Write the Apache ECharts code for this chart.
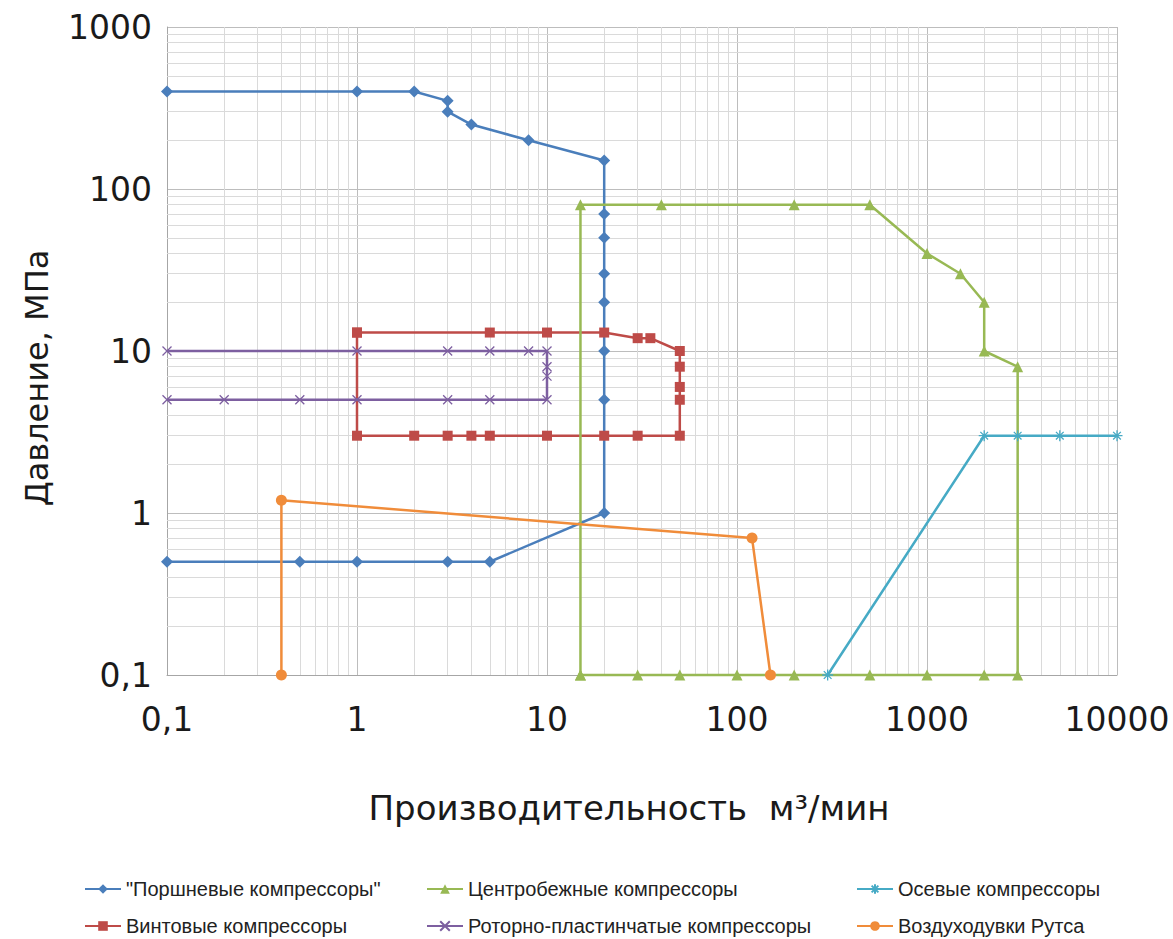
<!DOCTYPE html>
<html>
<head>
<meta charset="utf-8">
<script src="https://cdn.jsdelivr.net/npm/echarts@6/dist/echarts.min.js"></script>
<style>
  html, body { margin: 0; padding: 0; background: #fff; }
  #main { width: 1173px; height: 939px; }
</style>
</head>
<body>
<div id="main"></div>
<script>
// data: [производительность м3/мин, давление МПа]
let pistonData = [[0.1, 400], [1, 400], [2, 400], [3, 350], [3, 300], [4, 250], [8, 200], [20, 150],
  [20, 70], [20, 50], [20, 30], [20, 20], [20, 10], [20, 5], [20, 1],
  [5, 0.5], [3, 0.5], [1, 0.5], [0.5, 0.5], [0.1, 0.5]];
let screwData = [[1, 13], [5, 13], [10, 13], [20, 13], [30, 12], [35, 12], [50, 10], [50, 8], [50, 6], [50, 5],
  [50, 3], [30, 3], [20, 3], [10, 3], [5, 3], [4, 3], [3, 3], [2, 3], [1, 3], [1, 13]];
let centrifugalData = [[15, 0.1], [15, 80], [40, 80], [200, 80], [500, 80], [1000, 40], [1500, 30], [2000, 20],
  [2000, 10], [3000, 8], [3000, 0.1], [2000, 0.1], [1000, 0.1], [500, 0.1], [200, 0.1], [100, 0.1],
  [50, 0.1], [30, 0.1], [15, 0.1]];
let vaneData = [[0.1, 10], [1, 10], [3, 10], [5, 10], [8, 10], [10, 10], [10, 8], [10, 7], [10, 5],
  [5, 5], [3, 5], [1, 5], [0.5, 5], [0.2, 5], [0.1, 5]];
let axialData = [[300, 0.1], [2000, 3], [3000, 3], [5000, 3], [10000, 3]];
let rootsData = [[0.4, 0.1], [0.4, 1.2], [120, 0.7], [150, 0.1]];

let seriesNames = ['"Поршневые компрессоры"', 'Винтовые компрессоры', 'Центробежные компрессоры',
  'Роторно-пластинчатые компрессоры', 'Осевые компрессоры', 'Воздуходувки Рутса'];

// minor grid (2..9 in each decade)
let minorX = [], minorY = [];
[0.1, 1, 10, 100, 1000].forEach(function (d) {
  for (let k = 2; k <= 9; k++) minorX.push(+(k * d).toPrecision(3));
});
[0.1, 1, 10, 100].forEach(function (d) {
  for (let k = 2; k <= 9; k++) minorY.push(+(k * d).toPrecision(3));
});

let chartDom = document.getElementById('main');
let myChart = echarts.init(chartDom, null, { renderer: 'svg' });

function fmt(v) {
  return String(+v.toPrecision(6)).replace('.', ',');
}

let AXIS_FONT = 'DejaVu Sans';
let LEGEND_FONT = '"Liberation Sans", sans-serif';

function lineSeries(name, data, color, symbol, size, hollow) {
  return {
    name: name,
    type: 'line',
    data: data,
    symbol: symbol,
    symbolSize: size,
    showSymbol: true,
    lineStyle: { color: color, width: 2.5 },
    itemStyle: hollow
      ? { color: 'rgba(0,0,0,0)', borderColor: color, borderWidth: 1.3 }
      : { color: color },
    emphasis: { disabled: true },
    clip: false,
    z: 3
  };
}

// one legend per entry, laid out in 3 columns x 2 rows
let legendLeft = [84, 426, 856];
let legendTop = [879, 916];
function legendItem(i) {
  return {
    left: legendLeft[Math.floor(i / 2)],
    top: legendTop[i % 2],
    padding: 0,
    data: [seriesNames[i]],
    itemWidth: 36,
    itemHeight: 12,
    textStyle: { fontFamily: LEGEND_FONT, fontSize: 20, color: '#222', lineHeight: 20 },
    selectedMode: false
  };
}
let legendOrder = [0, 1, 2, 3, 4, 5];

let option = {
  animation: false,
  grid: { left: 167, right: 56, top: 27, bottom: 264 },
  xAxis: {
    type: 'log',
    logBase: 10,
    min: 0.1,
    max: 10000,
    splitNumber: 5,
    axisLine: { show: true, lineStyle: { color: '#a6a6a6', width: 1 } },
    axisTick: { show: false },
    axisLabel: { formatter: fmt, fontFamily: AXIS_FONT, fontSize: 33, color: '#1a1a1a', margin: 28 },
    splitLine: { show: true, lineStyle: { color: '#bdbdbd', width: 1 } }
  },
  yAxis: {
    type: 'log',
    logBase: 10,
    min: 0.1,
    max: 1000,
    splitNumber: 4,
    axisLine: { show: true, lineStyle: { color: '#a6a6a6', width: 1 } },
    axisTick: { show: false },
    axisLabel: { formatter: fmt, fontFamily: AXIS_FONT, fontSize: 33, color: '#1a1a1a', margin: 15 },
    splitLine: { show: true, lineStyle: { color: '#bdbdbd', width: 1 } }
  },
  legend: legendOrder.map(legendItem),
  graphic: [
    {
      type: 'text',
      x: 37, y: 378,
      rotation: Math.PI / 2,
      style: {
        text: 'Давление, МПа',
        font: '32px "DejaVu Sans"',
        fill: '#1a1a1a',
        align: 'center',
        verticalAlign: 'middle'
      }
    },
    {
      type: 'text',
      x: 629, y: 808,
      style: {
        text: 'Производительность  м³/мин',
        font: '34px "DejaVu Sans"',
        fill: '#1a1a1a',
        align: 'center',
        verticalAlign: 'middle'
      }
    }
  ],
  series: [
    {
      // minor grid lines
      type: 'line',
      data: [],
      silent: true,
      z: 1,
      markLine: {
        silent: true,
        z: 1,
        symbol: ['none', 'none'],
        label: { show: false },
        lineStyle: { color: '#dadada', width: 1, type: 'solid' },
        emphasis: { disabled: true },
        data: minorX.map(function (v) { return { xAxis: v }; })
          .concat(minorY.map(function (v) { return { yAxis: v }; }))
      }
    },
    lineSeries(seriesNames[0], pistonData, '#4a7ebb', 'diamond', 12),
    lineSeries(seriesNames[1], screwData, '#be4b48', 'rect', 10),
    lineSeries(seriesNames[2], centrifugalData, '#98b954', 'triangle', 11),
    lineSeries(seriesNames[3], vaneData, '#7d5fa0', 'path://M0,0 L10,10 M10,0 L0,10', 9, true),
    lineSeries(seriesNames[4], axialData, '#46aac5', 'path://M0,5 L10,5 M5,0 L5,10 M1.5,1.5 L8.5,8.5 M8.5,1.5 L1.5,8.5', 11, true),
    lineSeries(seriesNames[5], rootsData, '#f08c3a', 'circle', 11)
  ]
};

option && myChart.setOption(option);
</script>
</body>
</html>
